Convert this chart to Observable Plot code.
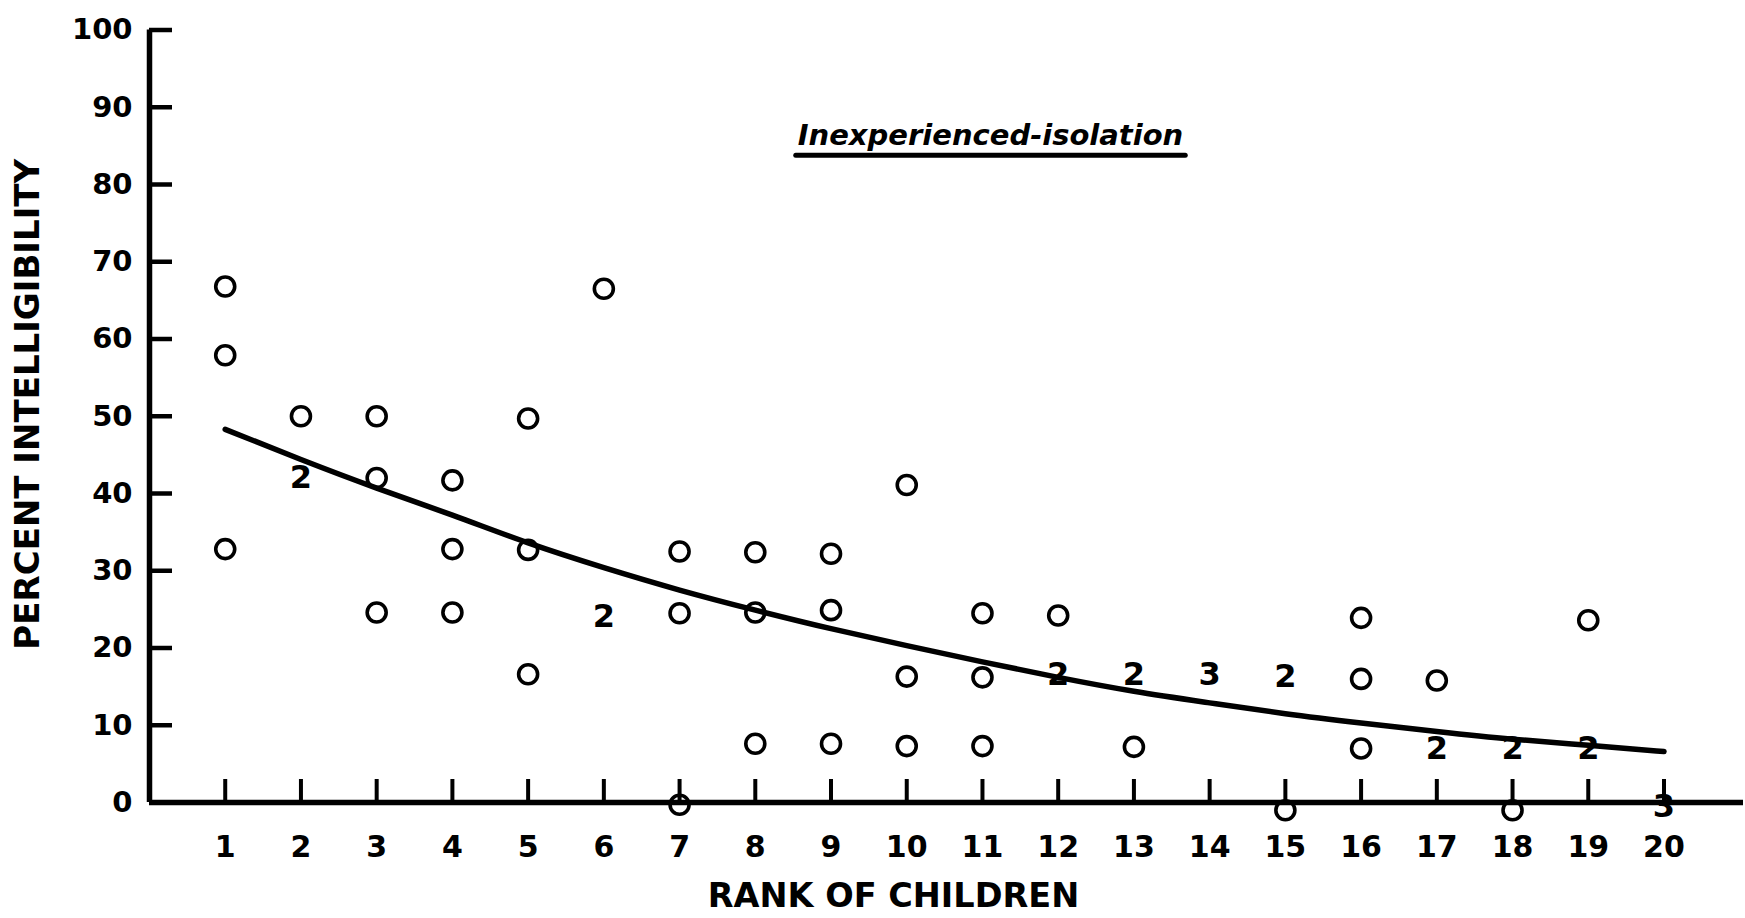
<!DOCTYPE html>
<html>
<head>
<meta charset="utf-8">
<script src="https://cdn.jsdelivr.net/npm/d3@7"></script>
<script src="https://cdn.jsdelivr.net/npm/@observablehq/plot@0.6"></script>
<style>
  html, body { margin: 0; padding: 0; background: #fff; }
  #chart { position: relative; }
</style>
</head>
<body>
<div id="chart"></div>
<script>
// ---- data ----
const titleText = "Inexperienced-isolation";
const xLabel = "RANK OF CHILDREN";
const yLabel = "PERCENT INTELLIGIBILITY";
const rankTicks = [1,2,3,4,5,6,7,8,9,10,11,12,13,14,15,16,17,18,19,20];
const pctTicks = [0,10,20,30,40,50,60,70,80,90,100];

// single observations (open circles)
const circleRank = [1,1,1, 2, 3,3,3, 4,4,4, 5,5,5, 6, 7,7,7, 8,8,8, 9,9,9, 10,10,10, 11,11,11, 12, 13, 15, 16,16,16, 17, 18, 19];
const circlePct  = [66.8,57.9,32.8, 50.0, 50.0,42.0,24.6, 41.7,32.8,24.6, 49.7,32.7,16.6, 66.5, 32.5,24.5,-0.3, 32.4,24.6,7.6, 32.2,24.9,7.6, 41.1,16.3,7.3, 24.5,16.2,7.3, 24.2, 7.2, -1.0, 23.9,16.0,7.0, 15.8, -1.0, 23.6];

// coincident observations (count shown as a numeral)
const countRank  = [2, 6, 12, 13, 14, 15, 17, 18, 19, 20];
const countPct   = [42.0, 24.1, 16.5, 16.5, 16.5, 16.3, 7.0, 7.0, 7.0, -0.6];
const countLabel = ["2","2","2","2","3","2","2","2","2","3"];

// fitted curve
const fitRank = [1,2,3,4,5,6,7,8,9,10,11,12,13,14,15,16,17,18,19,20];
const fitPct  = [48.3,44.4,40.7,37.2,33.6,30.4,27.5,24.9,22.5,20.3,18.2,16.2,14.4,12.9,11.5,10.3,9.2,8.2,7.4,6.6];

// ---- build ----
const circles = circleRank.map((r, i) => ({rank: r, pct: circlePct[i]}));
const counts = countRank.map((r, i) => ({rank: r, pct: countPct[i], n: countLabel[i]}));
const fit = fitRank.map((r, i) => ({rank: r, pct: fitPct[i]}));

const W = 1745, H = 918;
const mL = 149, mR = 2, mT = 29.5, mB = 116;
const frameW = W - mL - mR, frameH = H - mT - mB;
const font = "DejaVu Sans, Liberation Sans, sans-serif";

const chart = Plot.plot({
  width: W,
  height: H,
  marginLeft: mL,
  marginRight: mR,
  marginTop: mT,
  marginBottom: mB,
  style: {background: "#fff", color: "#000", fontFamily: font, fontWeight: "bold", fontSize: "30px", overflow: "visible"},
  x: {domain: [0, 21.05], axis: null},
  y: {domain: [0, 100], axis: null},
  marks: [
    // axis lines
    Plot.ruleX([0], {stroke: "#000", strokeWidth: 5.5}),
    Plot.ruleY([0], {stroke: "#000", strokeWidth: 5.5}),
    // tick marks (pointing into the plot)
    Plot.tickY(pctTicks, {y: d => d, stroke: "#000", strokeWidth: 4.5, insetRight: frameW - 23}),
    Plot.tickX(rankTicks, {x: d => d, stroke: "#000", strokeWidth: 4, insetTop: frameH - 23}),
    // tick labels
    Plot.axisY({ticks: pctTicks, tickSize: 0, tickPadding: 17, label: null, fontSize: 29, fontWeight: "bold", fontFamily: font}),
    Plot.axisX({ticks: rankTicks, tickSize: 0, tickPadding: 33, label: null, fontSize: 30, fontWeight: "bold", fontFamily: font}),
    // axis titles
    Plot.text([yLabel], {frameAnchor: "left", textAnchor: "middle", lineAnchor: "middle", dx: -121, dy: -12, rotate: -90, fontSize: 34, fontWeight: "bold", fontFamily: font, fill: "#000"}),
    Plot.text([xLabel], {frameAnchor: "bottom", textAnchor: "middle", lineAnchor: "middle", dx: -53, dy: 94, fontSize: 33.5, fontWeight: "bold", fontFamily: font, fill: "#000"}),
    // panel title
    Plot.text([titleText], {frameAnchor: "top", textAnchor: "middle", lineAnchor: "middle", dx: 44, dy: 106, fontSize: 29, fontWeight: "bold", fontStyle: "italic", fontFamily: font, fill: "#000"}),
    // fitted curve
    Plot.line(fit, {x: "rank", y: "pct", curve: "natural", stroke: "#000", strokeWidth: 5.5}),
    // observations
    Plot.dot(circles, {x: "rank", y: "pct", r: 9.5, stroke: "#000", strokeWidth: 3.6, fill: "none"}),
    Plot.text(counts, {x: "rank", y: "pct", text: "n", fontSize: 32, fontWeight: "bold", fontFamily: font, fill: "#000"})
  ]
});
document.getElementById("chart").appendChild(chart);

// underline the panel title (measured from the rendered text)
const titleEl = Array.from(chart.querySelectorAll("text")).find(t => t.textContent === titleText);
if (titleEl) {
  const tr = titleEl.getBoundingClientRect();
  const sr = chart.getBoundingClientRect();
  const ul = document.createElementNS("http://www.w3.org/2000/svg", "line");
  const yU = tr.bottom - sr.top + 3;
  ul.setAttribute("x1", tr.left - sr.left - 2);
  ul.setAttribute("x2", tr.right - sr.left + 2);
  ul.setAttribute("y1", yU);
  ul.setAttribute("y2", yU);
  ul.setAttribute("stroke", "#000");
  ul.setAttribute("stroke-width", 5);
  ul.setAttribute("stroke-linecap", "round");
  chart.appendChild(ul);
}
</script>
</body>
</html>
